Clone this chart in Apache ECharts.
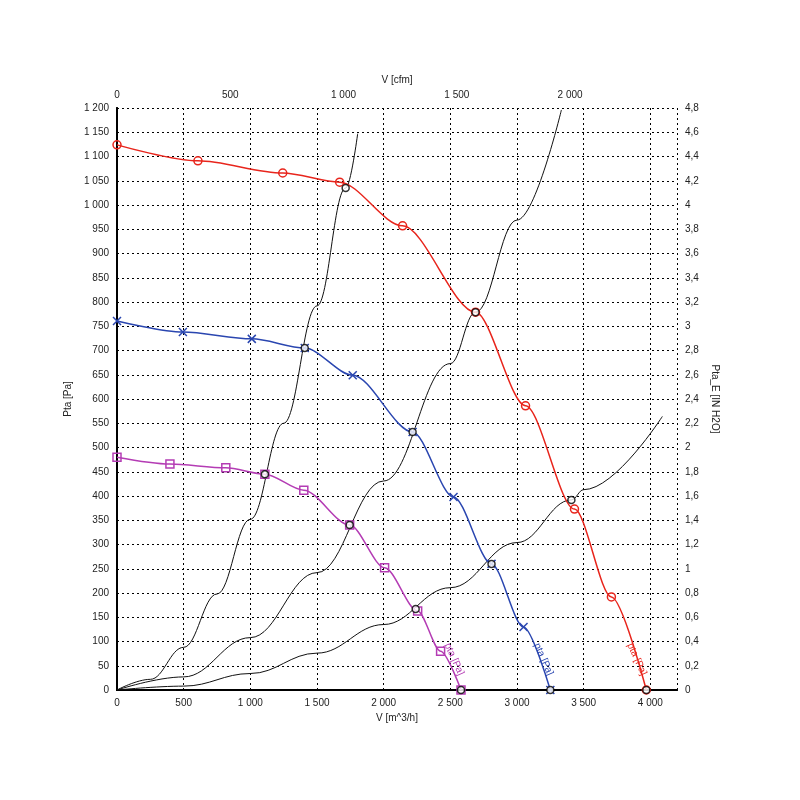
<!DOCTYPE html><html><head><meta charset="utf-8"><script src="https://cdn.jsdelivr.net/npm/echarts@6/dist/echarts.min.js"></script></head><body style="margin:0;background:#fff"><div id="c" style="width:800px;height:800px"></div><script>
const redCurve=[[0,1124],[607,1091],[1243,1066],[1670,1047],[2142,957],[2689,779],[3064,586],[3431,373],[3708,192],[3970,0]];
const blueCurve=[[0,761],[494,738],[1011,724],[1408,705],[1768,649],[2217,532],[2524,398],[2809,260],[3049,130],[3250,0]];
const magentaCurve=[[0,480],[397,466],[816,458],[1109,445],[1401,412],[1745,340],[2007,252],[2255,163],[2427,80],[2580,0]];
const sys1=[[0,0],[250,22],[500,88],[750,198],[1000,352],[1250,550],[1500,792],[1715,1035],[1805,1147]];
const sys2=[[0,0],[500,27],[1000,108],[1500,242],[2000,431],[2500,673],[2689,779],[3000,969],[3333,1196]];
const sys3=[[0,0],[500,8],[1000,34],[1500,76],[2000,135],[2500,211],[3000,304],[3408,392],[3500,413],[4090,564]];
const opPoints=[[1715,1035],[2689,779],[3408,392],[3970,0],[1408,705],[2217,532],[2809,260],[3250,0],[1109,445],[1745,340],[2240,167],[2580,0]];
const fmt=v=>String(v).replace(/\B(?=(\d{3})+(?!\d))/g,' ');
const c=echarts.init(document.getElementById('c'));
const grid={lineStyle:{color:'#000',type:[2,3],width:1}};
const ax={lineStyle:{color:'#000',width:2}};
const lbl={color:'#222',fontSize:10,fontFamily:'Liberation Sans'};
const sysS=d=>({type:'line',data:d,smooth:0.4,smoothMonotone:'x',symbol:'none',lineStyle:{color:'#111',width:1},z:2});
const curve=(d,col,sym)=>({type:'line',data:d,smooth:0.3,smoothMonotone:'x',symbol:sym,symbolSize:8,showSymbol:true,lineStyle:{color:col,width:1.5},itemStyle:{color:'transparent',borderColor:col,borderWidth:1.5},z:3});
c.setOption({animation:false,
grid:{left:117,right:123,top:108,bottom:110},
xAxis:[{type:'value',min:0,max:4200,interval:500,position:'bottom',axisLine:ax,axisTick:{show:false},splitLine:grid,axisLabel:{...lbl,formatter:v=>v>4000?'':fmt(v)},name:'V [m^3/h]',nameLocation:'middle',nameGap:18,nameTextStyle:lbl},
{type:'value',min:0,max:4200/1.699,interval:500,position:'top',axisLine:ax,axisTick:{show:false},splitLine:{show:false},axisLabel:{...lbl,formatter:v=>v>2000?'':fmt(v)},name:'V [cfm]',nameLocation:'middle',nameGap:18,nameTextStyle:lbl}],
yAxis:[{type:'value',min:0,max:1200,interval:50,axisLine:{show:true,...ax},axisTick:{show:false},splitLine:grid,axisLabel:{...lbl,formatter:fmt},name:'Pta [Pa]',nameLocation:'middle',nameGap:35,nameTextStyle:lbl},
{type:'value',min:0,max:4.8,interval:0.2,position:'right',axisLine:{show:true,...ax},axisTick:{show:false},splitLine:{show:false},axisLabel:{...lbl,formatter:v=>String(Math.round(v*10)/10).replace('.',',')},name:'Pta_E [IN H2O]',nameLocation:'middle',nameGap:28,nameRotate:-90,nameTextStyle:lbl}],
series:[sysS(sys1),sysS(sys2),sysS(sys3),
curve(redCurve,'#e8251c','circle'),
curve(blueCurve,'#2a46b0','path://M0,0L10,10M10,0L0,10'),
curve(magentaCurve,'#b43cb4','rect'),
{type:'scatter',data:opPoints,symbol:'circle',symbolSize:7,itemStyle:{color:'#fff',borderColor:'#000',borderWidth:1.5},z:5}]
});
const tags=[[3880,100,'#e8251c'],[3180,100,'#2a46b0'],[2510,100,'#b43cb4']];
c.setOption({graphic:tags.map(([x,y,col])=>{const p=c.convertToPixel({xAxisIndex:0,yAxisIndex:0},[x,y]);return {type:'text',x:p[0],y:p[1],rotation:-1.15,style:{text:'pta [Pa]',fill:col,fontSize:10,fontFamily:'Liberation Sans'}};})});
</script></body></html>
